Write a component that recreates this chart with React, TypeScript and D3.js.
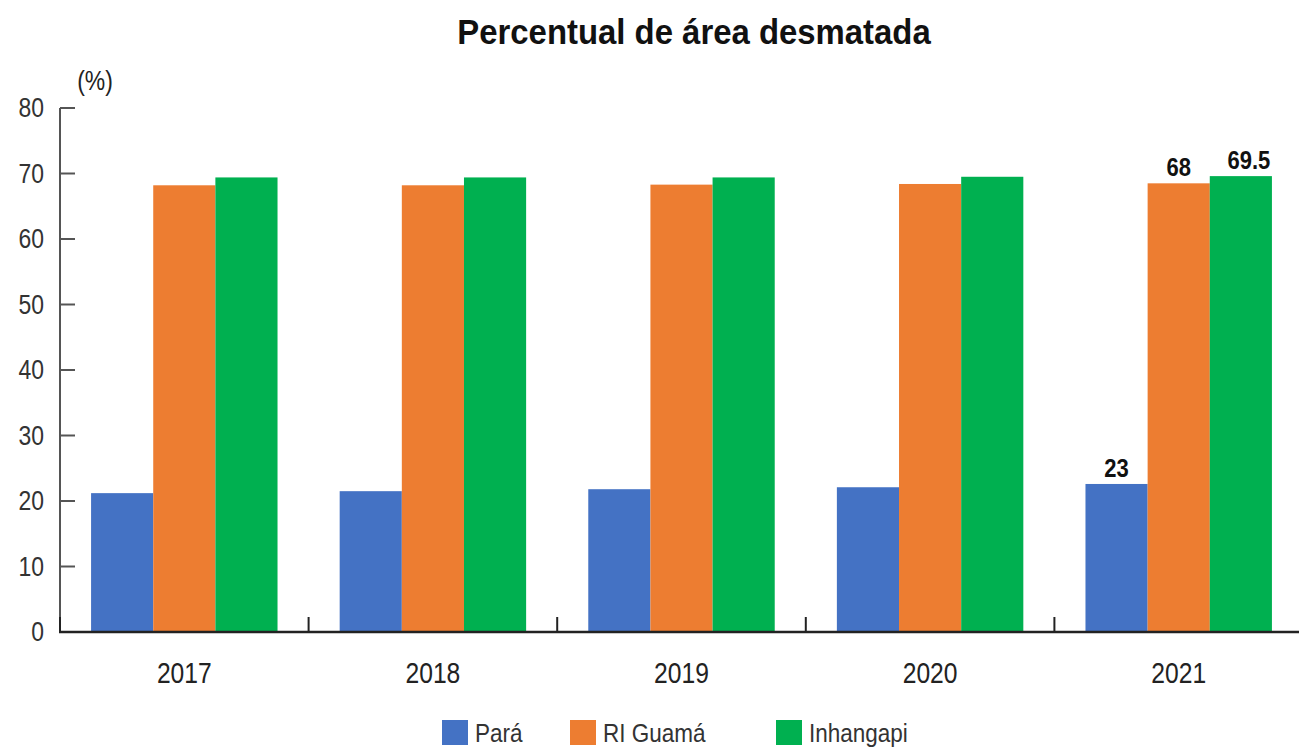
import React from "react";
import * as d3 from "d3";

// data
const years = ["2017", "2018", "2019", "2020", "2021"];
const seriesNames = ["Pará", "RI Guamá", "Inhangapi"];
const para = [21.2, 21.5, 21.8, 22.1, 22.6];
const guama = [68.2, 68.2, 68.3, 68.4, 68.5];
const inhangapi = [69.4, 69.4, 69.4, 69.5, 69.6];
const colors = ["#4472C4", "#ED7D31", "#00B050"];
const yTicks = [0, 10, 20, 30, 40, 50, 60, 70, 80];
// only the last year carries value labels
const labels2021 = ["23", "68", "69.5"];

const FONT = "'Liberation Sans', Arial, sans-serif";

// text squeezed horizontally, the reference uses a narrow font
const NText = ({ x, y, sx = 0.85, anchor = "start", size, bold = false, fill = "#222", children }: any) => (
  <text
    transform={`translate(${x},${y}) scale(${sx},1)`}
    textAnchor={anchor}
    fontFamily={FONT}
    fontWeight={bold ? "bold" : "normal"}
    fontSize={size}
    fill={fill}
  >
    {children}
  </text>
);

const App = () => {
  const width = 1299;
  const height = 750;
  const left = 60;
  const right = 1303;
  const top = 108;
  const bottom = 632;

  const series = [para, guama, inhangapi];

  const x0 = d3.scaleBand().domain(years).range([left, right]).padding(0);
  const bw = x0.bandwidth();
  const x1 = d3
    .scaleBand()
    .domain(seriesNames)
    .range([bw * 0.125, bw * 0.875])
    .padding(0);
  const y = d3.scaleLinear().domain([0, 80]).range([bottom, top]);

  const legendX = [442, 570, 776];

  return (
    <svg
      width={width}
      height={height}
      style={{ position: "absolute", left: 0, top: 0, background: "#fff" }}
    >
      <NText x={694} y={44} anchor="middle" size={35} sx={0.94} bold fill="#111">
        Percentual de área desmatada
      </NText>
      <NText x={95} y={90} anchor="middle" size={27} fill="#222">
        (%)
      </NText>

      {/* bars */}
      {years.map((yr, i) => (
        <g key={yr} transform={`translate(${x0(yr)},0)`}>
          {seriesNames.map((s, j) => (
            <rect
              key={s}
              x={x1(s)}
              y={y(series[j][i])}
              width={x1.bandwidth()}
              height={y(0) - y(series[j][i])}
              fill={colors[j]}
            />
          ))}
        </g>
      ))}

      {/* labels on 2021 */}
      {seriesNames.map((s, j) => {
        const yr = years[years.length - 1];
        const v = series[j][years.length - 1];
        return (
          <NText
            key={s}
            x={(x0(yr) as number) + (x1(s) as number) + x1.bandwidth() / 2 + (j === 2 ? 8 : 0)}
            y={y(v) - 7}
            anchor="middle"
            size={25}
            sx={0.88}
            bold
            fill="#111"
          >
            {labels2021[j]}
          </NText>
        );
      })}

      {/* y axis */}
      <line x1={left} x2={left} y1={top} y2={bottom} stroke="#555" strokeWidth={2} />
      {yTicks.map((t) => (
        <g key={t}>
          {t > 0 && (
            <line x1={left} x2={left + 15} y1={y(t)} y2={y(t)} stroke="#555" strokeWidth={2} />
          )}
          <NText x={44} y={y(t) + 9} anchor="end" size={27} fill="#333">
            {t}
          </NText>
        </g>
      ))}

      {/* x axis */}
      <line x1={left - 1} x2={right} y1={bottom} y2={bottom} stroke="#222" strokeWidth={2.5} />
      {years.map((yr) => (
        <g key={yr}>
          <line
            x1={x0(yr)}
            x2={x0(yr)}
            y1={bottom}
            y2={bottom - 15}
            stroke="#222"
            strokeWidth={2}
          />
          <NText x={(x0(yr) as number) + bw / 2} y={683} anchor="middle" size={29} fill="#222">
            {yr}
          </NText>
        </g>
      ))}

      {/* legend */}
      {seriesNames.map((s, j) => (
        <g key={s}>
          <rect x={legendX[j]} y={720} width={26} height={25} fill={colors[j]} />
          <NText x={legendX[j] + 33} y={742} size={25} sx={0.9} fill="#333">
            {s}
          </NText>
        </g>
      ))}
    </svg>
  );
};

export default App;
